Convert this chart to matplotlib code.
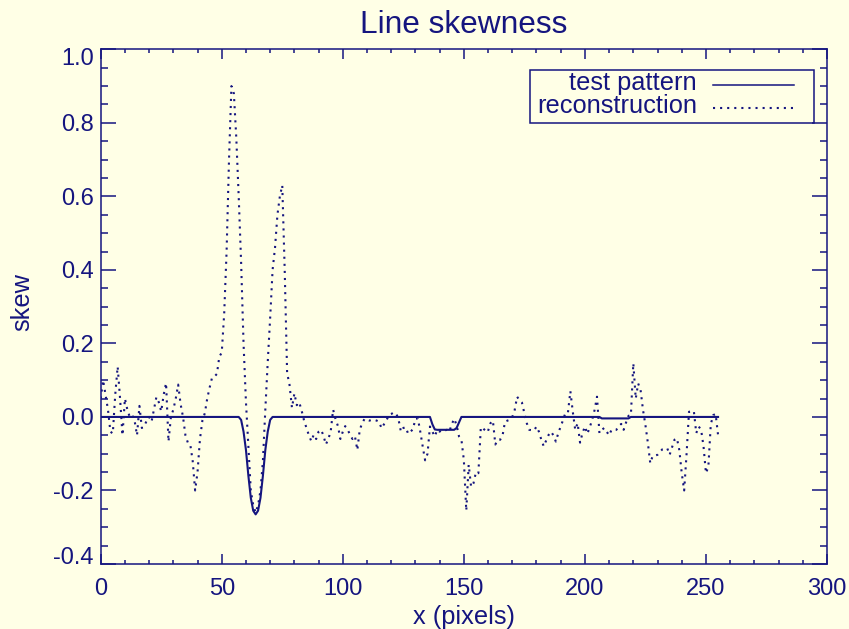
"""
Line skewness: test pattern vs reconstruction (IDL-style plot).
"""

import numpy as np
import matplotlib.pyplot as plt
from matplotlib.patches import Rectangle
from matplotlib.lines import Line2D
from matplotlib.ticker import MultipleLocator
from matplotlib.transforms import ScaledTranslation

# ---- data ----
pixels = np.arange(256)

reconstruction = [
    0.05, 0.10, 0.06, 0.02, -0.04, -0.045, 0.06, 0.137, 0.05, -0.05,
    0.05, 0.02, 0.0, 0.005, -0.01, -0.05, 0.03, -0.03, -0.025, -0.01,
    0.0, -0.013, 0.02, 0.054, 0.04, 0.015, 0.06, 0.092, -0.067, 0.0,
    0.02, 0.05, 0.088, 0.035, 0.0, -0.05, -0.07, -0.075, -0.12, -0.2,
    -0.15, -0.06, -0.01, 0.01, 0.05, 0.08, 0.107, 0.11, 0.117, 0.164,
    0.175, 0.28, 0.45, 0.7, 0.9, 0.88, 0.76, 0.6, 0.42, 0.2,
    0.04, -0.08, -0.2, -0.24, -0.26, -0.24, -0.2, -0.12, 0.02, 0.15,
    0.27, 0.4, 0.46, 0.55, 0.6, 0.63, 0.4, 0.12, 0.087, 0.025,
    0.064, 0.032, 0.04, 0.017, -0.01, -0.03, -0.05, -0.066, -0.048, -0.06,
    -0.04, -0.035, -0.05, -0.075, -0.06, -0.04, 0.02, -0.006, -0.025, -0.06,
    -0.04, -0.025, -0.035, -0.048, -0.06, -0.052, -0.09, -0.035, -0.017, -0.005,
    -0.008, -0.01, -0.008, -0.008, -0.01, -0.013, -0.031, -0.02, -0.01, 0.005,
    0.008, 0.012, 0.01, -0.006, -0.04, -0.03, -0.028, -0.046, -0.04, -0.033,
    -0.005, -0.004, -0.04, -0.08, -0.118, -0.1, -0.026, -0.04, -0.053, -0.035,
    -0.04, -0.035, -0.037, -0.035, -0.04, -0.02, -0.005, -0.022, -0.053, -0.062,
    -0.117, -0.255, -0.13, -0.19, -0.18, -0.15, -0.153, -0.03, -0.037, -0.03,
    -0.038, -0.017, -0.01, -0.075, -0.062, -0.062, -0.05, -0.013, -0.01, -0.008,
    0.0, 0.019, 0.055, 0.045, 0.039, 0.01, -0.017, -0.035, -0.036, -0.037,
    -0.026, -0.04, -0.062, -0.08, -0.064, -0.049, -0.04, -0.05, -0.067, -0.044,
    -0.026, -0.008, 0.012, 0.012, 0.07, 0.014, -0.035, -0.017, -0.07, -0.044,
    -0.026, -0.046, -0.028, -0.008, 0.019, 0.055, -0.044, -0.035, -0.03, -0.04,
    -0.05, -0.035, -0.035, -0.035, -0.025, -0.019, -0.035, -0.015, 0.003, 0.005,
    0.146, 0.05, 0.091, 0.073, 0.019, -0.022, -0.07, -0.126, -0.106, -0.105,
    -0.103, -0.095, -0.088, -0.086, -0.085, -0.103, -0.082, -0.062, -0.058, -0.09,
    -0.153, -0.2, -0.1, 0.014, 0.016, 0.016, -0.044, -0.026, -0.035, -0.08,
    -0.153, -0.135, -0.02, 0.005, 0.008, -0.049,
]

# test pattern is zero except for these segments (start pixel, values)
dip_start = 58
dip_values = [-0.008, -0.04, -0.09, -0.16, -0.22, -0.255, -0.265,
              -0.255, -0.22, -0.16, -0.09, -0.04, -0.008]
step_start = 137
step_values = [-0.02, -0.034, -0.035, -0.035, -0.035, -0.035, -0.035,
               -0.035, -0.035, -0.035, -0.03, -0.015]
faint_start = 207
faint_values = [-0.004] * 12

test_pattern = np.zeros(len(pixels))
for start, vals in [(dip_start, dip_values), (step_start, step_values),
                    (faint_start, faint_values)]:
    test_pattern[start:start + len(vals)] = vals

y_ticks = [-0.4, -0.2, 0.0, 0.2, 0.4, 0.6, 0.8, 1.0]

# ---- style ----
INK = '#15157f'
BG = '#ffffe6'
plt.rcParams['font.family'] = ['Liberation Sans', 'DejaVu Sans']
FS = 17
FS_BIG = 18.3

W, H = 849, 629
fig = plt.figure(figsize=(W / 100, H / 100), dpi=100, facecolor=BG)
ax = fig.add_axes([100.7 / W, (H - 564) / H, 726.3 / W, 514.7 / H])
ax.set_facecolor(BG)

ax.plot(pixels, test_pattern, color=INK, lw=1.5, solid_joinstyle='round')
ax.plot(pixels, reconstruction, color=INK, lw=1.5,
        linestyle=(0, (1, 2.4)), dash_capstyle='butt')

ax.set_xlim(0, 300)
ax.set_ylim(-0.4, 1.0)
ax.xaxis.set_major_locator(MultipleLocator(50))
ax.xaxis.set_minor_locator(MultipleLocator(10))
ax.yaxis.set_minor_locator(MultipleLocator(0.05))

for sp in ax.spines.values():
    sp.set_color(INK)
    sp.set_linewidth(1.1)

ax.tick_params(axis='both', which='both', direction='in', top=True, right=True,
               color=INK, labelcolor=INK, width=1.1, labelsize=FS)
ax.tick_params(axis='x', which='major', length=7.3, pad=10)
ax.tick_params(axis='x', which='minor', length=3.2)
ax.tick_params(axis='y', which='major', length=10.5, pad=5)
ax.tick_params(axis='y', which='minor', length=5.2)

ax.set_yticks(y_ticks)
ax.set_yticklabels([f"{v:.1f}" for v in y_ticks])
labels = ax.get_yticklabels()
# IDL keeps the end labels inside the axis range
labels[0].set_va('baseline')
labels[-1].set_va('baseline')
labels[-1].set_transform(labels[-1].get_transform()
                         + ScaledTranslation(0, -15.5 / 100, fig.dpi_scale_trans))

ax.set_xlabel("x (pixels)", fontsize=FS_BIG, color=INK)
ax.xaxis.set_label_coords(0.5, -0.103)
ax.xaxis.label.set_va('center')
ax.set_ylabel("skew", fontsize=FS_BIG, color=INK)
ax.yaxis.set_label_coords(-0.108, 0.51)
ax.yaxis.label.set_va('center')

fig.text(0.546, 1 - 25 / H, "Line skewness", fontsize=22.8, color=INK,
         ha='center', va='center')

# legend box drawn IDL-style: right-aligned text, sample line to the right
box = Rectangle((0.591, 0.856), 0.391, 0.104, transform=ax.transAxes,
                fill=False, edgecolor=INK, lw=1.1)
ax.add_patch(box)
ax.text(0.821, 0.921, "test pattern", transform=ax.transAxes, fontsize=FS_BIG,
        color=INK, ha='right', va='baseline')
ax.text(0.821, 0.876, "reconstruction", transform=ax.transAxes,
        fontsize=FS_BIG, color=INK, ha='right', va='baseline')
ax.add_line(Line2D([0.843, 0.954], [0.9297, 0.9297], transform=ax.transAxes,
                   color=INK, lw=1.1))
ax.add_line(Line2D([0.843, 0.954], [0.8860, 0.8860], transform=ax.transAxes,
                   color=INK, lw=1.5, linestyle=(0, (1, 2.4)),
                   dash_capstyle='butt'))

fig.savefig("out.png", dpi=100, facecolor=BG)
